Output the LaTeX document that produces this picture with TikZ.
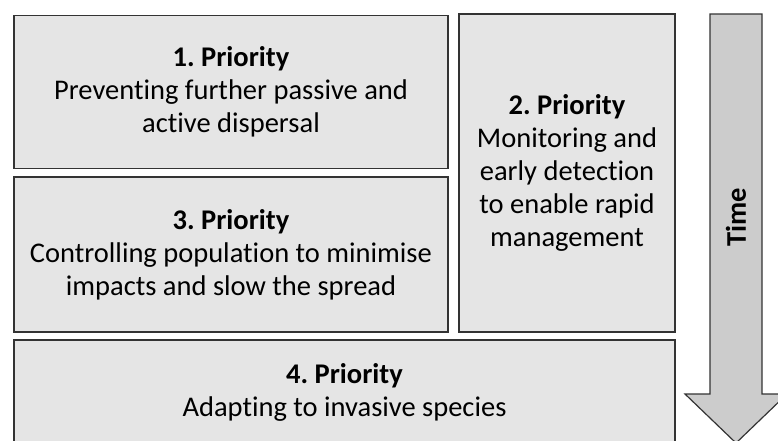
\documentclass[tikz,border=0pt]{standalone}
\usepackage{fontspec}
\setmainfont[Ligatures=CommonOff]{Carlito}
\frenchspacing

\begin{document}
\begin{tikzpicture}[x=1pt, y=-1pt, font=\fontsize{28.5}{33}\selectfont,
	prio/.style={draw=black!80, line width=1.2pt, fill=black!10, align=center, inner sep=0pt},
	timearrow/.style={draw=black!80, line width=1.2pt, fill=black!20}]
	\useasboundingbox (0,0) rectangle (778,440);
	\clip (0,0) rectangle (778,440);
	\node[prio, minimum width=434pt, minimum height=153pt] (p1) at (231,92) {\textbf{1. Priority}\\Preventing further passive and\\active dispersal};
	\node[prio, minimum width=216pt, minimum height=318pt] (p2) at (567,173) {\textbf{2. Priority}\\Monitoring and\\early detection\\to enable rapid\\management};
	\node[prio, minimum width=434pt, minimum height=155pt] (p3) at (231,254.5) {\textbf{3. Priority}\\Controlling population to minimise\\impacts and slow the spread};
	\node[prio, minimum width=661pt, minimum height=104pt] (p4) at (344.5,392) {\textbf{4. Priority}\\Adapting to invasive species};
	\draw[timearrow] (710,14) -- (762,14) -- (762,394) -- (787,394) -- (736,443) -- (685,394) -- (710,394) -- cycle;
	\node[rotate=90, font=\fontsize{28.5}{33}\selectfont\bfseries] (time) at (736,217) {Time};
\end{tikzpicture}
\end{document}
